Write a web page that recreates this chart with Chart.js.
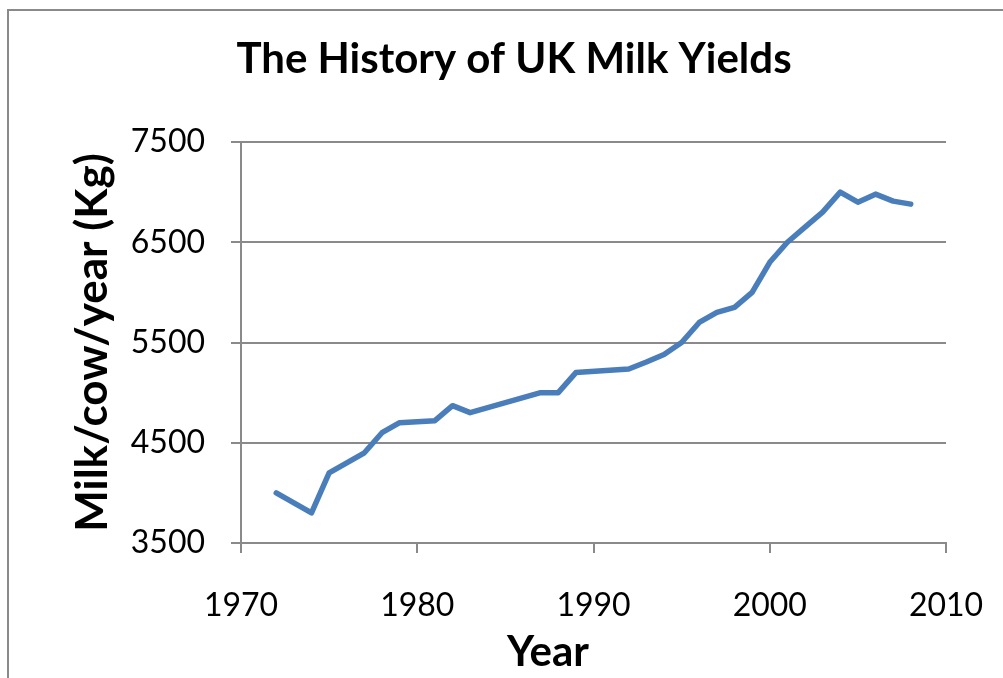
<!DOCTYPE html>
<html>
<head>
<meta charset="utf-8">
<style>
  html, body { margin: 0; padding: 0; background: #fff; }
  #milkChart { display: block; }
</style>
<script src="https://cdn.jsdelivr.net/npm/chart.js@4.4.1/dist/chart.umd.min.js"></script>
</head>
<body>
<canvas id="milkChart" width="1003" height="678"></canvas>
<script>
// UK milk yield per cow, kg per year
var years  = [1972, 1974, 1975, 1977, 1978, 1979, 1981, 1982, 1983, 1987, 1988, 1989, 1992, 1993, 1994,
              1995, 1996, 1997, 1998, 1999, 2000, 2001, 2002, 2003, 2004, 2005, 2006, 2007, 2008];
var yields = [4000, 3800, 4200, 4400, 4600, 4700, 4720, 4870, 4800, 5000, 5000, 5200, 5235, 5305, 5380,
              5500, 5700, 5800, 5850, 6000, 6300, 6500, 6650, 6800, 7000, 6900, 6980, 6910, 6880];

var yearTicks  = [1970, 1980, 1990, 2000, 2010];
var yieldTicks = [3500, 4500, 5500, 6500, 7500];

var chartTitle = 'The History of UK Milk Yields';
var xTitle = 'Year';
var yTitle = 'Milk/cow/year (Kg)';
var fontFamily = 'Lato, "Liberation Sans", sans-serif';
var axisGrey = '#8a8a8a';

var points = years.map(function (yr, i) { return {x: yr, y: yields[i]}; });

// white background, grey frame, heading and the x axis caption
var framePlugin = {
    id: 'frame',
    beforeDraw: function (chart) {
        var c = chart.ctx;
        c.save();
        c.fillStyle = '#ffffff';
        c.fillRect(0, 0, chart.width, chart.height);
        c.strokeStyle = axisGrey;
        c.lineWidth = 2;
        c.strokeRect(8, 10, chart.width + 20, chart.height + 20);
        c.fillStyle = '#000000';
        c.textAlign = 'center';
        c.textBaseline = 'middle';
        c.font = 'bold 42px ' + fontFamily;
        c.fillText(chartTitle, 514, 59);
        c.fillText(xTitle, 548, 652);
        c.restore();
    }
};

var ctx = document.getElementById('milkChart').getContext('2d');
var chart = new Chart(ctx, {
    type: 'line',
    data: {
        datasets: [{
            label: 'Milk yield',
            data: points,
            borderColor: '#4a7ebb',
            backgroundColor: '#4a7ebb',
            borderWidth: 5.5,
            borderJoinStyle: 'round',
            borderCapStyle: 'round',
            pointRadius: 0,
            tension: 0,
            fill: false
        }]
    },
    options: {
        responsive: false,
        animation: false,
        devicePixelRatio: 1,
        layout: { padding: { left: 10, right: 57, top: 142, bottom: 0 } },
        plugins: {
            legend: { display: false },
            title: { display: false },
            tooltip: { enabled: false }
        },
        scales: {
            x: {
                type: 'linear',
                min: yearTicks[0],
                max: yearTicks[yearTicks.length - 1],
                afterBuildTicks: function (axis) {
                    axis.ticks = yearTicks.map(function (v) { return {value: v}; });
                },
                ticks: {
                    color: '#000',
                    padding: 33,
                    font: { family: fontFamily, size: 32 },
                    callback: function (v) { return String(v); }
                },
                grid: {
                    drawOnChartArea: false,
                    drawTicks: true,
                    tickLength: 10,
                    color: axisGrey,
                    lineWidth: 2
                },
                border: { color: axisGrey, width: 2 },
                afterFit: function (axis) {
                    axis.height = 135;
                    // keep the end labels from squeezing the plot sideways
                    axis.paddingLeft = 0;
                    axis.paddingRight = 0;
                }
            },
            y: {
                min: yieldTicks[0],
                max: yieldTicks[yieldTicks.length - 1],
                afterBuildTicks: function (axis) {
                    axis.ticks = yieldTicks.map(function (v) { return {value: v}; });
                },
                ticks: {
                    color: '#000',
                    padding: 26,
                    font: { family: fontFamily, size: 32 },
                    callback: function (v) { return String(v); }
                },
                grid: {
                    drawTicks: true,
                    tickLength: 10,
                    color: axisGrey,
                    lineWidth: 2
                },
                border: { color: axisGrey, width: 2 },
                title: {
                    display: true,
                    text: yTitle,
                    color: '#000',
                    font: { family: fontFamily, size: 44, weight: 'bold' },
                    padding: { top: 56, bottom: 0 }
                },
                afterFit: function (axis) { axis.width = 231; }
            }
        }
    },
    plugins: [framePlugin]
});
</script>
</body>
</html>
